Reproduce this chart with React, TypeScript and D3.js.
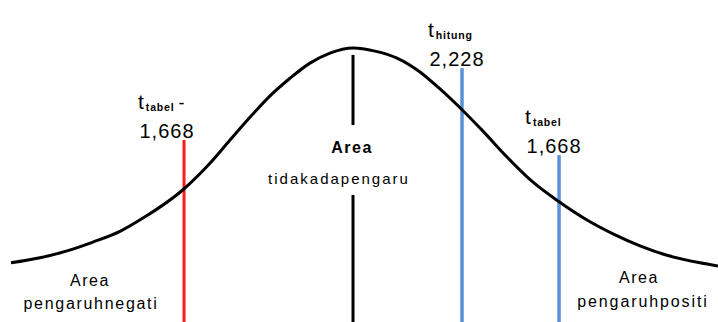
import React from "react";
import * as d3 from "d3";

// Curve: t position and density height
const curveT = [-3.376, -3.09, -2.823, -2.567, -2.3, -2.073, -1.678, -1.412, -1.214, -1.017, -0.819, -0.622, -0.425, -0.227, 0, 0.217, 0.434, 0.661, 0.859, 1.076, 1.283, 1.52, 1.777, 2.034, 2.31, 2.567, 2.833, 3.1, 3.425, 3.603];
const curveDensity = [0.059, 0.067, 0.078, 0.092, 0.109, 0.13, 0.175, 0.217, 0.254, 0.29, 0.324, 0.352, 0.376, 0.392, 0.4, 0.395, 0.384, 0.362, 0.335, 0.302, 0.268, 0.227, 0.187, 0.156, 0.127, 0.105, 0.086, 0.071, 0.059, 0.054];

// Vertical markers (schematic positions on the t axis) and how high they reach
const markerPos = [-1.668, 0, 1.076, 2.034];
const markerReach = [0.254, 0.389, 0.368, 0.23];
const markerSub = ["tabel", "", "hitung", "tabel"];
const markerValue = ["1,668", "", "2,228", "1,668"];

const W = 718;
const H = 322;

export default function App() {
  const x = d3.scaleLinear().domain([-3.376, 3.603]).range([11, 718]);
  const y = d3.scaleLinear().domain([0, 0.4]).range([300, 48]);
  const pts = curveT.map((t, i) => [t, curveDensity[i]] as [number, number]);
  const line = d3
    .line<[number, number]>()
    .x((d) => x(d[0]))
    .y((d) => y(d[1]))
    .curve(d3.curveMonotoneX);

  const font = "'Liberation Sans', Arial, sans-serif";
  const colors = ["#ff1a1a", "#000", "#5b91d8", "#5b91d8"];
  const cx = x(0);

  return (
    <svg width={W} height={H} style={{ position: "absolute", left: 0, top: 0, background: "#fff" }}>
      <rect x={0} y={0} width={W} height={H} fill="#fff" />
      {/* vertical markers */}
      {markerPos.map((p, i) =>
        i === 1 ? (
          <g key={i}>
            <line x1={x(p)} x2={x(p)} y1={y(markerReach[i])} y2={125} stroke="#000" strokeWidth={3} />
            <line x1={x(p)} x2={x(p)} y1={195} y2={H} stroke="#000" strokeWidth={3} />
          </g>
        ) : (
          <line
            key={i}
            x1={x(p)}
            x2={x(p)}
            y1={y(markerReach[i])}
            y2={H}
            stroke={colors[i]}
            strokeWidth={i === 0 ? 3 : 3.5}
          />
        )
      )}
      <path d={line(pts) || ""} fill="none" stroke="#000" strokeWidth={3} />

      {/* top labels */}
      {[0, 2, 3].map((i) => {
        const px = x(markerPos[i]);
        const tBase = y(markerReach[i]) - 31;
        const tx = i === 0 ? px - 46 : px - 34;
        return (
          <g key={i} fontFamily={font} fill="#000">
            <text x={tx} y={tBase} fontSize={21}>
              t
              <tspan fontSize={10.5} fontWeight="bold" dy={2} dx={2} letterSpacing={0.8}>
                {markerSub[i]}
              </tspan>
              {i === 0 ? (
                <tspan dy={-2} dx={4} fontSize={18}>
                  -
                </tspan>
              ) : null}
            </text>
            <text
              x={i === 0 ? px - 17 : px - 5}
              y={y(markerReach[i]) - 2}
              fontSize={20}
              textAnchor="middle"
              letterSpacing={1}
            >
              {markerValue[i]}
            </text>
          </g>
        );
      })}

      {/* center text */}
      <text x={cx - 1} y={153} fontFamily={font} fontSize={16} fontWeight="bold" textAnchor="middle" letterSpacing={1.5}>
        Area
      </text>
      <text x={cx - 14} y={184} fontFamily={font} fontSize={15} textAnchor="middle" letterSpacing={2}>
        tidakadapengaru
      </text>

      {/* bottom side texts */}
      <text x={90} y={286} fontFamily={font} fontSize={16} textAnchor="middle" letterSpacing={1.5}>
        Area
      </text>
      <text x={91} y={309} fontFamily={font} fontSize={16} textAnchor="middle" letterSpacing={1.7}>
        pengaruhnegati
      </text>
      <text x={639} y={283} fontFamily={font} fontSize={16} textAnchor="middle" letterSpacing={1.5}>
        Area
      </text>
      <text x={643} y={307} fontFamily={font} fontSize={16} textAnchor="middle" letterSpacing={1.9}>
        pengaruhpositi
      </text>
    </svg>
  );
}
